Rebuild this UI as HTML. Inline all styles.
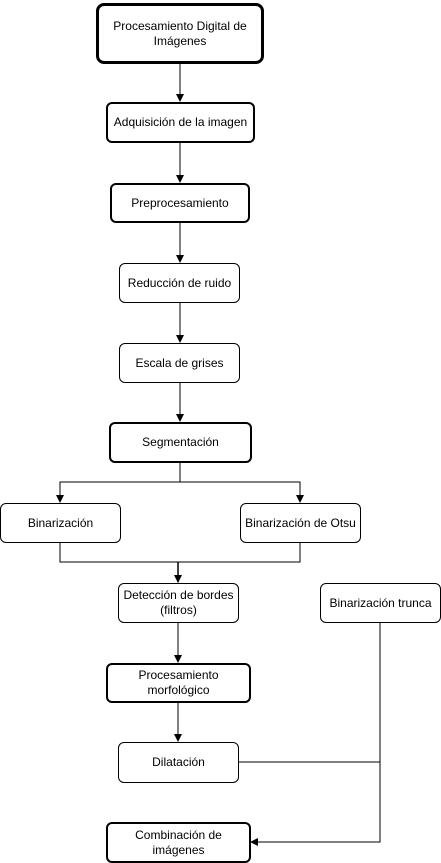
<!DOCTYPE html>
<html><head><meta charset="utf-8"><style>
body{margin:0;width:441px;height:863px;background:#fff;position:relative;overflow:hidden;font-family:"Liberation Sans",Arial,sans-serif;font-size:12px;color:#000}
.b{position:absolute;box-sizing:border-box;border:1px solid #000;border-radius:6px;background:#fff;display:flex;align-items:center;justify-content:center;text-align:center;line-height:15px}
.t2{border-width:2px}.t3{border-width:3px;border-radius:8px}
svg{position:absolute;left:0;top:0}
</style></head><body>
<svg width="441" height="863">
<defs><marker id="a" markerWidth="8" markerHeight="8" refX="7" refY="4" orient="auto" markerUnits="userSpaceOnUse"><path d="M0,0 L8,4 L0,8 Z" fill="#000"/></marker></defs>
<g stroke="#000" stroke-width="1" fill="none">
<line x1="180" y1="63" x2="180" y2="101" marker-end="url(#a)"/>
<line x1="180" y1="142" x2="180" y2="182" marker-end="url(#a)"/>
<line x1="180" y1="222" x2="180" y2="262" marker-end="url(#a)"/>
<line x1="180" y1="302" x2="180" y2="342" marker-end="url(#a)"/>
<line x1="180" y1="382" x2="180" y2="421" marker-end="url(#a)"/>
<line x1="180" y1="462" x2="180" y2="482"/>
<polyline points="60,502 60,482 300,482 300,502"/>
<line x1="60" y1="482" x2="60" y2="502" marker-end="url(#a)"/>
<line x1="300" y1="482" x2="300" y2="502" marker-end="url(#a)"/>
<polyline points="60,542 60,562 300,562 300,542"/>
<line x1="178" y1="562" x2="178" y2="582" marker-end="url(#a)" stroke-width="1.5"/>
<line x1="178" y1="622" x2="178" y2="662" marker-end="url(#a)"/>
<line x1="178" y1="702" x2="178" y2="741" marker-end="url(#a)"/>
<polyline points="238,762 380,762"/>
<polyline points="380,622 380,842 251,842" marker-end="url(#a)"/>
</g></svg>
<div class="b t3" style="left:96px;top:3px;width:168px;height:61px">Procesamiento Digital de<br>Imágenes</div>
<div class="b t2" style="left:106px;top:102px;width:149px;height:41px">Adquisición de la imagen</div>
<div class="b t2" style="left:110px;top:183px;width:140px;height:40px">Preprocesamiento</div>
<div class="b" style="left:119px;top:263px;width:121px;height:40px">Reducción de ruido</div>
<div class="b" style="left:119px;top:343px;width:121px;height:40px">Escala de grises</div>
<div class="b t2" style="left:109px;top:422px;width:143px;height:41px">Segmentación</div>
<div class="b" style="left:0px;top:503px;width:121px;height:40px">Binarización</div>
<div class="b" style="left:240px;top:503px;width:121px;height:40px">Binarización de Otsu</div>
<div class="b" style="left:118px;top:583px;width:121px;height:40px">Detección de bordes<br>(filtros)</div>
<div class="b" style="left:320px;top:583px;width:121px;height:40px">Binarización trunca</div>
<div class="b t2" style="left:106px;top:663px;width:145px;height:40px">Procesamiento<br>morfológico</div>
<div class="b" style="left:118px;top:742px;width:121px;height:41px">Dilatación</div>
<div class="b t2" style="left:106px;top:822px;width:145px;height:41px">Combinación de<br>imágenes</div>
</body></html>
